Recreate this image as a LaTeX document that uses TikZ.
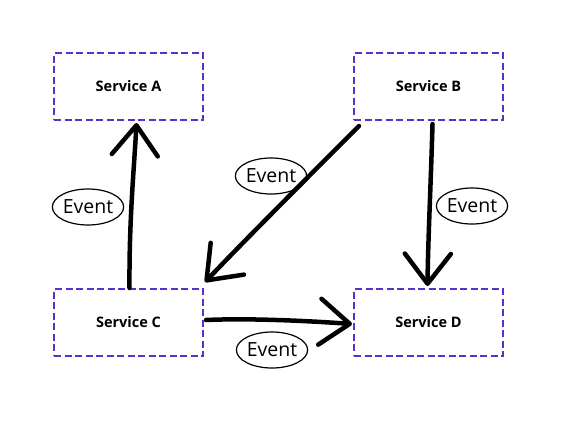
\documentclass[tikz,border=0pt]{standalone}
\usepackage{fontspec}
\setmainfont{Open Sans}
\usetikzlibrary{arrows.meta,shapes.geometric}
\definecolor{svcpurple}{HTML}{5B2FCB}
\begin{document}
\begin{tikzpicture}[x=1pt,y=-1pt,
  svc/.style={draw=svcpurple,line width=2pt,dash pattern=on 7pt off 3.5pt,
    minimum width=149pt,minimum height=67pt,inner sep=0pt,
    font=\fontsize{14.5}{16}\selectfont\bfseries},
  evt/.style={draw,ellipse,line width=1.2pt,minimum width=61pt,minimum height=36pt,
    inner sep=0pt,font=\fontsize{19.5}{21}\selectfont},
  flow/.style={line width=4.5pt,line cap=round,
    -{Straight Barb[length=30pt,width=46pt,line width=4.5pt,round]}}]
\useasboundingbox (0,0) rectangle (585,420);
\node[svc] (A) at (128.5,86.5) {Service A};
\node[svc] (B) at (428.5,86.5) {Service B};
\node[svc] (C) at (128.5,322.5) {Service C};
\node[svc] (D) at (428.5,322.5) {Service D};
\node[evt] (e1) at (88,207) {Event};
\node[evt] (e2) at (271,176) {Event};
\node[evt] (e3) at (472,206) {Event};
\node[evt] (e4) at (272,350) {Event};
\draw[flow] ([xshift=1pt]C.north) .. controls (129,220) and (134,170) .. ([xshift=8pt,yshift=-2pt]A.south);
\draw[flow] ([xshift=4pt,yshift=-3pt]B.south) .. controls (431,180) and (428,240) .. ([xshift=-1pt,yshift=2pt]D.north);
\draw[flow] ([xshift=6pt,yshift=-5pt]B.south west) .. controls (305,180) and (250,235) .. ([xshift=1pt,yshift=6pt]C.north east);
\draw[flow] ([xshift=2pt,yshift=2.5pt]C.east) .. controls (250,318) and (310,321) .. ([xshift=-1pt,yshift=-1.5pt]D.west);
\end{tikzpicture}
\end{document}
